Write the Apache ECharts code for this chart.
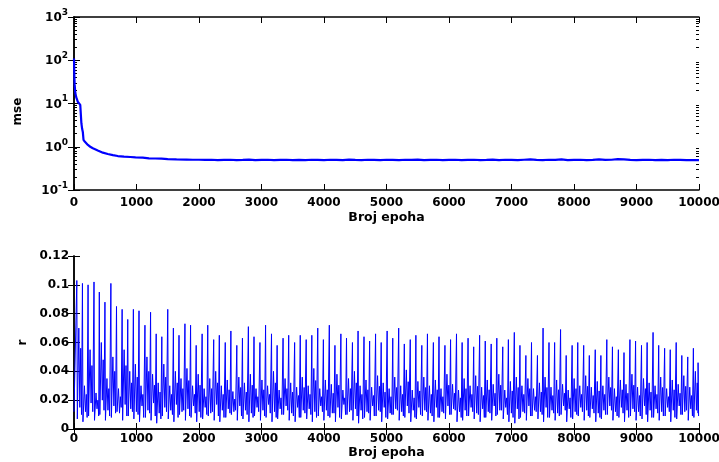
<!DOCTYPE html>
<html>
<head>
<meta charset="utf-8">
<script src="https://cdn.jsdelivr.net/npm/echarts@6/dist/echarts.min.js"></script>
<style>
html,body{margin:0;padding:0;background:#fff;}
#chart{width:719px;height:462px;}
</style>
</head>
<body>
<div id="chart"></div>
<script>
// ---- data: top panel (mse, log scale) ----
const mseEpochs = [0, 5, 10, 20, 35, 60, 80, 100, 112, 118, 130, 141, 152, 175, 222, 260, 302, 380, 462, 540, 622, 700, 800, 900, 985, 1100, 1200, 1300, 1400, 1500, 1640, 1800, 1900,
  2000, 2100, 2200, 2300, 2400, 2500, 2600, 2700, 2800, 2900,
  3000, 3100, 3200, 3300, 3400, 3500, 3600, 3700, 3800, 3900,
  4000, 4100, 4200, 4300, 4400, 4500, 4600, 4700, 4800, 4900,
  5000, 5100, 5200, 5300, 5400, 5500, 5600, 5700, 5800, 5900,
  6000, 6100, 6200, 6300, 6400, 6500, 6600, 6700, 6800, 6900,
  7000, 7100, 7200, 7300, 7400, 7500, 7600, 7700, 7800, 7900,
  8000, 8100, 8200, 8300, 8400, 8500, 8600, 8700, 8800, 8900,
  9000, 9100, 9200, 9300, 9400, 9500, 9600, 9700, 9800, 9900,
  10000];
const mseValues = [110, 45, 28, 18, 14, 11, 10.2, 9.3, 9, 3.5, 2.6, 2.2, 1.45, 1.3, 1.1, 1.0, 0.92, 0.82, 0.73, 0.68, 0.64, 0.61, 0.59, 0.58, 0.57, 0.56, 0.54, 0.535, 0.53, 0.52, 0.51, 0.505, 0.50,
  0.50, 0.495, 0.50, 0.49, 0.495, 0.50, 0.49, 0.495, 0.505, 0.49,
  0.495, 0.50, 0.49, 0.495, 0.50, 0.49, 0.495, 0.49, 0.50, 0.495,
  0.49, 0.50, 0.495, 0.49, 0.505, 0.495, 0.49, 0.50, 0.495, 0.49,
  0.50, 0.495, 0.49, 0.50, 0.495, 0.505, 0.49, 0.495, 0.50, 0.49,
  0.495, 0.50, 0.49, 0.495, 0.50, 0.49, 0.495, 0.505, 0.49, 0.50,
  0.495, 0.49, 0.50, 0.51, 0.495, 0.49, 0.50, 0.495, 0.51, 0.49,
  0.495, 0.50, 0.49, 0.495, 0.51, 0.495, 0.50, 0.515, 0.51, 0.495,
  0.49, 0.495, 0.50, 0.49, 0.495, 0.49, 0.50, 0.495, 0.49, 0.49,
  0.49];

// ---- data: bottom panel (r) ----
const peakEpochs = [
  45, 135, 225, 320, 405, 495, 590, 680, 770, 860,
  950, 1040, 1135, 1225, 1315, 1405, 1500, 1590, 1680, 1775,
  1865, 1955, 2050, 2140, 2235, 2325, 2420, 2510, 2605, 2695,
  2790, 2880, 2975, 3065, 3160, 3250, 3345, 3435, 3530, 3620,
  3715, 3805, 3900, 3990, 4085, 4175, 4270, 4360, 4455, 4545,
  4640, 4730, 4825, 4915, 5010, 5100, 5195, 5285, 5380, 5470,
  5565, 5655, 5750, 5840, 5935, 6025, 6120, 6210, 6305, 6395,
  6490, 6580, 6675, 6765, 6860, 6950, 7045, 7135, 7230, 7320,
  7415, 7505, 7600, 7690, 7785, 7875, 7970, 8060, 8155, 8245,
  8340, 8430, 8525, 8615, 8710, 8800, 8895, 8985, 9080, 9170,
  9265, 9355, 9450, 9540, 9635, 9725, 9820, 9910, 9985];
const peakValues = [
  0.103, 0.101, 0.100, 0.102, 0.095, 0.088, 0.101, 0.085, 0.083, 0.076,
  0.083, 0.082, 0.072, 0.081, 0.066, 0.064, 0.083, 0.070, 0.065, 0.073,
  0.072, 0.058, 0.066, 0.072, 0.062, 0.065, 0.060, 0.068, 0.058, 0.063,
  0.071, 0.064, 0.060, 0.072, 0.066, 0.058, 0.063, 0.065, 0.060, 0.065,
  0.062, 0.065, 0.070, 0.062, 0.072, 0.058, 0.066, 0.063, 0.060, 0.068,
  0.064, 0.061, 0.066, 0.060, 0.068, 0.063, 0.070, 0.059, 0.062, 0.065,
  0.058, 0.066, 0.060, 0.064, 0.058, 0.062, 0.066, 0.060, 0.063, 0.057,
  0.065, 0.061, 0.059, 0.063, 0.057, 0.062, 0.067, 0.058, 0.051, 0.060,
  0.051, 0.070, 0.060, 0.060, 0.069, 0.051, 0.058, 0.060, 0.058, 0.051,
  0.055, 0.051, 0.062, 0.057, 0.055, 0.053, 0.062, 0.061, 0.058, 0.060,
  0.067, 0.058, 0.056, 0.055, 0.060, 0.051, 0.050, 0.056, 0.046];
const lowValues = [
  0.007, 0.005, 0.009, 0.006, 0.010, 0.006, 0.008, 0.012, 0.006, 0.009,
  0.007, 0.005, 0.008, 0.006, 0.004, 0.009, 0.007, 0.005, 0.010, 0.006,
  0.008, 0.005, 0.007, 0.009, 0.006, 0.005, 0.008, 0.010, 0.006, 0.007,
  0.005, 0.009, 0.006, 0.008, 0.005, 0.007, 0.010, 0.006, 0.005, 0.008,
  0.007, 0.005, 0.009, 0.006, 0.008, 0.005, 0.007, 0.010, 0.006, 0.004,
  0.008, 0.006, 0.009, 0.005, 0.007, 0.010, 0.006, 0.008, 0.005, 0.007,
  0.009, 0.006, 0.005, 0.008, 0.007, 0.010, 0.005, 0.006, 0.009, 0.007,
  0.005, 0.008, 0.006, 0.010, 0.007, 0.005, 0.004, 0.008, 0.006, 0.009,
  0.007, 0.005, 0.008, 0.006, 0.010, 0.005, 0.007, 0.009, 0.006, 0.008,
  0.005, 0.007, 0.010, 0.006, 0.008, 0.005, 0.009, 0.006, 0.007, 0.005,
  0.008, 0.006, 0.009, 0.005, 0.007, 0.010, 0.006, 0.008, 0.009];
const midValues = [
  0.070, 0.030, 0.055, 0.025, 0.060, 0.035, 0.050, 0.028, 0.055, 0.040,
  0.045, 0.030, 0.050, 0.038, 0.032, 0.045, 0.030, 0.040, 0.035, 0.042,
  0.030, 0.038, 0.028, 0.035, 0.040, 0.030, 0.034, 0.026, 0.036, 0.032,
  0.038, 0.028, 0.034, 0.030, 0.040, 0.027, 0.035, 0.032, 0.029, 0.036,
  0.030, 0.042, 0.028, 0.034, 0.031, 0.038, 0.027, 0.035, 0.040, 0.030,
  0.034, 0.029, 0.037, 0.032, 0.028, 0.036, 0.030, 0.041, 0.027, 0.033,
  0.036, 0.030, 0.034, 0.028, 0.038, 0.031, 0.027, 0.035, 0.030, 0.037,
  0.029, 0.034, 0.031, 0.038, 0.027, 0.033, 0.036, 0.030, 0.035, 0.028,
  0.032, 0.036, 0.029, 0.034, 0.031, 0.027, 0.035, 0.030, 0.037, 0.029,
  0.033, 0.030, 0.036, 0.028, 0.034, 0.031, 0.038, 0.029, 0.035, 0.032,
  0.030, 0.036, 0.028, 0.034, 0.031, 0.037, 0.029, 0.040, 0.045];
const dipValues = [
  0.015, 0.012, 0.018, 0.014, 0.020, 0.013, 0.016, 0.011, 0.017, 0.014,
  0.012, 0.016, 0.013, 0.018, 0.011, 0.015, 0.013, 0.017, 0.012, 0.014,
  0.016, 0.012, 0.015, 0.011, 0.017, 0.013, 0.014, 0.012, 0.016, 0.013,
  0.011, 0.015, 0.013, 0.017, 0.012, 0.014, 0.016, 0.011, 0.015, 0.013,
  0.014, 0.012, 0.016, 0.013, 0.011, 0.015, 0.017, 0.012, 0.014, 0.013,
  0.012, 0.016, 0.013, 0.015, 0.011, 0.014, 0.012, 0.016, 0.013, 0.015,
  0.013, 0.011, 0.015, 0.012, 0.016, 0.014, 0.012, 0.013, 0.015, 0.011,
  0.014, 0.012, 0.016, 0.013, 0.015, 0.011, 0.014, 0.012, 0.016, 0.013,
  0.012, 0.015, 0.013, 0.011, 0.016, 0.014, 0.012, 0.015, 0.013, 0.014,
  0.011, 0.013, 0.016, 0.012, 0.015, 0.013, 0.014, 0.012, 0.016, 0.013,
  0.014, 0.012, 0.015, 0.013, 0.016, 0.012, 0.014, 0.013, 0.015];
const startValue = 0.012;

const logMajorTicks = [0.1, 1, 10, 100, 1000];
const logMinorTicks = [0.2,0.3,0.4,0.5,0.6,0.7,0.8,0.9, 2,3,4,5,6,7,8,9, 20,30,40,50,60,70,80,90, 200,300,400,500,600,700,800,900];

// ---- build series data ----
const mseData = mseEpochs.map((e, i) => [e, mseValues[i]]);
const rData = [[0, startValue]];
for (let i = 0; i < peakEpochs.length; i++) {
  const e = peakEpochs[i];
  rData.push([e, peakValues[i]]);
  rData.push([Math.min(e + 8, 10000), lowValues[i]]);
  if (e + 32 < 10000) rData.push([e + 32, midValues[i]]);
  if (e + 48 < 10000) rData.push([e + 48, dipValues[i]]);
  if (e + 62 < 10000) rData.push([e + 62, midValues[i] * 0.8]);
  if (e + 75 < 10000) rData.push([e + 75, lowValues[i] + 0.003]);
}

const FONT = 'DejaVu Sans';
const txt = { fontFamily: FONT, fontWeight: 'bold', fontSize: 12, color: '#000' };
const axisLine = { show: true, lineStyle: { color: '#000', width: 1.5 } };

function xAx(grid, pos, showLabel) {
  return {
    type: 'value', gridIndex: grid, position: pos, offset: 0, min: 0, max: 10000, interval: 1000,
    axisLine: axisLine,
    axisTick: { show: true, inside: true, length: 6, lineStyle: { color: '#000', width: 1 } },
    axisLabel: Object.assign({ show: showLabel, margin: grid === 0 ? 7 : 4, formatter: v => String(v) }, txt),
    splitLine: { show: false },
    name: showLabel ? 'Broj epoha' : '',
    nameLocation: 'middle',
    nameGap: grid === 0 ? 21 : 17,
    nameTextStyle: Object.assign({}, txt, { fontSize: 12.5 })
  };
}

// tick-only log axis (no line, no labels) placed on a twin grid
function tickAx(grid, pos, values, len) {
  return {
    type: 'log', logBase: 10, gridIndex: grid, position: pos, offset: 0, min: 0.1, max: 1000,
    axisLine: { show: false, onZero: false },
    axisTick: { show: true, inside: true, length: len, customValues: values, lineStyle: { color: '#000', width: 1 } },
    axisLabel: { show: false }, splitLine: { show: false }
  };
}

const option = {
  animation: false,
  backgroundColor: '#fff',
  grid: [
    { left: 74, right: 20, top: 17, height: 173, outerBoundsMode: 'none', containLabel: false },
    { left: 74, right: 20, top: 256, height: 173, outerBoundsMode: 'none', containLabel: false },
    { left: 74, right: 20, top: 17, height: 173, outerBoundsMode: 'none', containLabel: false }
  ],
  xAxis: [
    xAx(0, 'bottom', true), xAx(0, 'top', false), xAx(1, 'bottom', true), xAx(1, 'top', false),
    { type: 'value', gridIndex: 2, min: 0, max: 10000, show: false }
  ],
  yAxis: [
    {
      type: 'log', logBase: 10, gridIndex: 0, position: 'left', offset: 0, min: 0.1, max: 1000,
      axisLine: axisLine,
      axisTick: { show: true, inside: true, length: 3, customValues: logMinorTicks.concat(logMajorTicks), lineStyle: { color: '#000', width: 1 } },
      axisLabel: {
        margin: 6,
        customValues: logMajorTicks,
        formatter: v => '{b|10}{s|' + Math.round(Math.log10(v)) + '}',
        rich: {
          b: { fontFamily: FONT, fontWeight: 'bold', fontSize: 12, color: '#000', verticalAlign: 'bottom', lineHeight: 14 },
          s: { fontFamily: FONT, fontWeight: 'bold', fontSize: 9, color: '#000', verticalAlign: 'bottom', lineHeight: 14, padding: [0, 0, 7, 0] }
        }
      },
      splitLine: { show: false },
      name: 'mse', nameLocation: 'middle', nameGap: 50, nameRotate: 90,
      nameTextStyle: Object.assign({}, txt, { padding: [0, 0, 0, -16] })
    },
    {
      type: 'log', logBase: 10, gridIndex: 0, position: 'right', offset: 0, min: 0.1, max: 1000,
      axisLine: axisLine,
      axisTick: { show: true, inside: true, length: 6, lineStyle: { color: '#000' } },
      axisLabel: { show: false }, splitLine: { show: false }
    },
    tickAx(2, 'left', logMajorTicks, 6),
    tickAx(2, 'right', logMinorTicks, 3),
    {
      type: 'value', gridIndex: 1, position: 'left', offset: 0, min: 0, max: 0.12, interval: 0.02,
      axisLine: axisLine,
      axisTick: { show: true, inside: true, length: 6, lineStyle: { color: '#000' } },
      axisLabel: Object.assign({ margin: 5 }, txt),
      splitLine: { show: false },
      name: 'r', nameLocation: 'middle', nameGap: 28, nameRotate: 90,
      nameTextStyle: txt
    },
    {
      type: 'value', gridIndex: 1, position: 'right', offset: 0, min: 0, max: 0.12, interval: 0.02,
      axisLine: axisLine,
      axisTick: { show: true, inside: true, length: 6, lineStyle: { color: '#000' } },
      axisLabel: { show: false }, splitLine: { show: false }
    }
  ],
  series: [
    {
      type: 'line', xAxisIndex: 0, yAxisIndex: 0, data: mseData,
      showSymbol: false, symbol: 'none', lineStyle: { color: '#0000ff', width: 2.2 }, z: 3
    },
    {
      type: 'line', xAxisIndex: 2, yAxisIndex: 4, data: rData,
      showSymbol: false, symbol: 'none', sampling: null, lineStyle: { color: '#0000ff', width: 1 }, z: 3
    }
  ]
};

const chart = echarts.init(document.getElementById('chart'), null, { renderer: 'canvas' });
chart.setOption(option);
</script>
</body>
</html>
